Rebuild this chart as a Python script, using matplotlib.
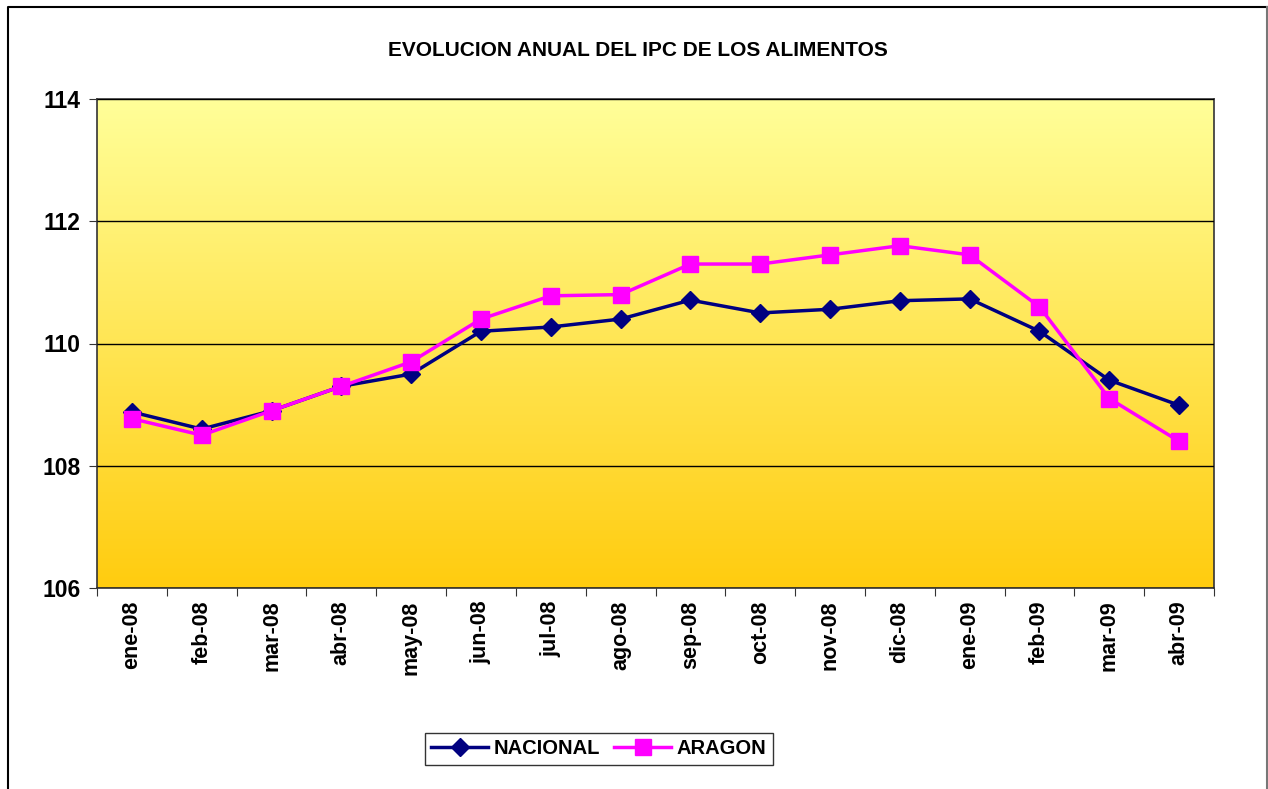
import numpy as np
import matplotlib.pyplot as plt
from matplotlib.lines import Line2D
from matplotlib.colors import LinearSegmentedColormap

plt.rcParams['font.family'] = ['Liberation Sans', 'DejaVu Sans']
plt.rcParams['font.weight'] = 'bold'

meses = ["ene-08", "feb-08", "mar-08", "abr-08", "may-08", "jun-08", "jul-08", "ago-08",
         "sep-08", "oct-08", "nov-08", "dic-08", "ene-09", "feb-09", "mar-09", "abr-09"]
nacional = [108.88, 108.60, 108.90, 109.30, 109.50, 110.20, 110.27, 110.40,
            110.71, 110.50, 110.56, 110.70, 110.73, 110.20, 109.40, 108.99]
aragon = [108.77, 108.50, 108.90, 109.30, 109.70, 110.40, 110.78, 110.80,
          111.30, 111.30, 111.45, 111.60, 111.45, 110.60, 109.10, 108.40]

W, H = 1268, 789
fig = plt.figure(figsize=(W / 100, H / 100), dpi=100)

# marco exterior (sin borde inferior)
fig.lines.append(Line2D([7.5 / W, 7.5 / W, 1266.5 / W], [0, 1 - 6.5 / H, 1 - 6.5 / H],
                        transform=fig.transFigure, color='black', lw=1.5))
fig.lines.append(Line2D([1266.5 / W, 1266.5 / W], [0, 1 - 6.5 / H],
                        transform=fig.transFigure, color='#777777', lw=1.5))

ax = fig.add_axes([97 / W, 1 - 588 / H, (1214 - 97) / W, (588 - 99) / H])

# fondo degradado amarillo
grad = np.linspace(0, 1, 256).reshape(-1, 1)
cmap = LinearSegmentedColormap.from_list("fondo", ["#FFCC0F", "#FFFF99"])
ax.imshow(grad, aspect='auto', cmap=cmap, origin='lower',
          extent=[0, 1, 0, 1], transform=ax.transAxes, zorder=0)

x = np.arange(len(meses)) + 0.5
ax.plot(x, nacional, color='#000080', lw=2.5, marker='D', ms=9, zorder=3, label='NACIONAL')
ax.plot(x, aragon, color='#FF00FF', lw=2.5, marker='s', ms=11, zorder=3, label='ARAGON')

ax.set_xlim(0, len(meses))
ax.set_ylim(106, 114)
ax.set_yticks([106, 108, 110, 112, 114])
ax.set_xticks(np.arange(len(meses) + 1))
ax.set_xticklabels([])
ax.set_xticks(x, minor=True)
ax.set_xticklabels(meses, minor=True, rotation=90, fontsize=15.5, fontweight='bold')
ax.tick_params(axis='x', which='minor', length=0, pad=9)
ax.tick_params(axis='x', which='major', length=6, direction='out', color='#333333')
ax.tick_params(axis='y', length=6, direction='out', labelsize=16.5, pad=6, color='#333333')
for lab in ax.get_yticklabels():
    lab.set_fontweight('bold')
ax.grid(axis='y', color='black', lw=1, zorder=1)
ax.set_axisbelow(False)
for s in ax.spines.values():
    s.set_color('#333333')
    s.set_linewidth(1.2)

fig.text(638 / W, 1 - 51 / H, "EVOLUCION ANUAL DEL IPC DE LOS ALIMENTOS",
         ha='center', va='center', fontsize=15, fontweight='bold')

leg = fig.legend(loc='center', bbox_to_anchor=(599 / W, 1 - 749 / H), ncol=2,
                 fontsize=14.5, frameon=True, fancybox=False, edgecolor='black',
                 handlelength=2.8, columnspacing=0.7, handletextpad=0.3, borderpad=0.3,
                 borderaxespad=0)
leg.get_frame().set_linewidth(1)

fig.savefig("out.png", dpi=100)
